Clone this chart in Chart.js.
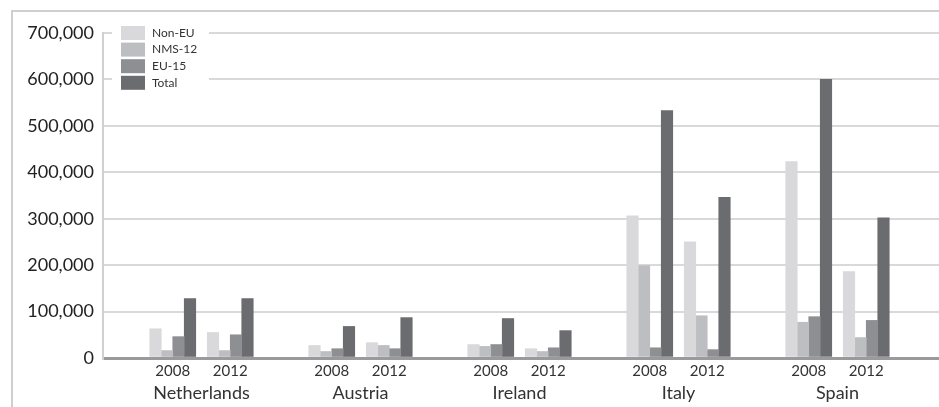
<!DOCTYPE html>
<html>
<head>
<meta charset="utf-8">
<script src="https://cdn.jsdelivr.net/npm/chart.js@4.4.1/dist/chart.umd.min.js"></script>
<style>
  body { margin: 0; background: #fff; }
  #frame { position: absolute; left: 11px; top: 10px; width: 940px; height: 400px;
           border-left: 2px solid #cfcfcf; border-top: 2px solid #cfcfcf; }
  #c { position: absolute; left: 0; top: 0; }
</style>
</head>
<body>
<div id="frame"></div>
<canvas id="c" width="939" height="407"></canvas>
<script>
// data
var countries = ['Netherlands', 'Austria', 'Ireland', 'Italy', 'Spain'];
var years = ['2008', '2012'];
var seriesNames = ['Non-EU', 'NMS-12', 'EU-15', 'Total'];
var colores = ['#d9d9db', '#bdbec1', '#8e8f92', '#6b6c70'];

var nonEU2008 = [63000, 27000, 29000, 306000, 423000];
var nms2008   = [16000, 14000, 25000, 199000, 77000];
var eu2008    = [46000, 20000, 29000, 22000, 89000];
var total2008 = [128000, 68000, 85000, 533000, 600000];

var nonEU2012 = [55000, 33000, 20000, 250000, 186000];
var nms2012   = [16000, 27000, 14000, 91000, 44000];
var eu2012    = [50000, 20000, 22000, 18000, 81000];
var total2012 = [128000, 87000, 59000, 346000, 302000];

var yTicks = [0, 100000, 200000, 300000, 400000, 500000, 600000, 700000];
var spacer = [0, 0, 0, 0, 0]; // empty slot between the two years

var FONT = 'Lato, "Open Sans", sans-serif';

var set2008 = [nonEU2008, nms2008, eu2008, total2008];
var set2012 = [nonEU2012, nms2012, eu2012, total2012];

var datasets = [];
for (var i = 0; i < 4; i++) {
  datasets.push({ label: seriesNames[i], data: set2008[i], backgroundColor: colores[i] });
}
datasets.push({ label: '', data: spacer, backgroundColor: 'rgba(0,0,0,0)' });
for (var j = 0; j < 4; j++) {
  datasets.push({ label: seriesNames[j], data: set2012[j], backgroundColor: colores[j] });
}

// squeeze the category axis inside the plot like the original
var shiftX = {
  id: 'shiftX',
  afterLayout: function(chart) {
    var x = chart.scales.x;
    x.left = chart.chartArea.left + 19;
    x.right = chart.chartArea.right - 22;
    x.width = x.right - x.left;
    x.configure();
  }
};

var legendBox = {
  id: 'legendBox',
  beforeDatasetsDraw: function(chart) {
    var ctx = chart.ctx;
    ctx.save();
    ctx.fillStyle = '#fff';
    ctx.fillRect(112, 22, 97, 73);
    ctx.font = '12px ' + FONT;
    ctx.textBaseline = 'middle';
    ctx.textAlign = 'left';
    for (var k = 0; k < 4; k++) {
      var ds = chart.data.datasets[k];
      var y = 26 + k * 16.6;
      ctx.fillStyle = ds.backgroundColor;
      ctx.fillRect(121, y, 24, 14);
      ctx.fillStyle = '#333';
      ctx.fillText(ds.label, 152, y + 7);
    }
    ctx.restore();
  }
};

var yearLabels = {
  id: 'yearLabels',
  afterDatasetsDraw: function(chart) {
    var ctx = chart.ctx;
    ctx.save();
    ctx.font = '15px ' + FONT;
    ctx.fillStyle = '#333';
    ctx.textAlign = 'center';
    ctx.textBaseline = 'middle';
    var pairs = [[1, 2], [6, 7]];
    for (var p = 0; p < pairs.length; p++) {
      var a = chart.getDatasetMeta(pairs[p][0]).data;
      var b = chart.getDatasetMeta(pairs[p][1]).data;
      for (var i = 0; i < countries.length; i++) {
        ctx.fillText(years[p], (a[i].x + b[i].x) / 2, 371);
      }
    }
    ctx.restore();
  }
};

var myChart = new Chart(document.getElementById('c').getContext('2d'), {
  type: 'bar',
  data: { labels: countries, datasets: datasets },
  plugins: [shiftX, legendBox, yearLabels],
  options: {
    responsive: false,
    animation: false,
    layout: { padding: { left: 11, top: 33, right: 0, bottom: 0 } },
    datasets: { bar: { barThickness: 11.5, borderWidth: 0 } },
    plugins: { legend: { display: false }, tooltip: { enabled: false } },
    scales: {
      x: {
        afterFit: function(s) { s.height = 49; },
        grid: { display: false, drawTicks: false },
        border: { display: false },
        ticks: { color: '#333', font: { family: FONT, size: 18 }, padding: 24, maxRotation: 0 }
      },
      y: {
        min: 0,
        max: yTicks[yTicks.length - 1],
        afterFit: function(s) { s.width = 92; },
        afterBuildTicks: function(s) { s.ticks = yTicks.map(function(v) { return { value: v }; }); },
        border: { display: true, color: '#d0d0d0', width: 2 },
        grid: {
          drawTicks: false,
          color: function(c) { return c.tick.value === 0 ? '#9a9a9c' : '#d9d9d9'; },
          lineWidth: function(c) { return c.tick.value === 0 ? 3 : 2; }
        },
        ticks: {
          padding: 9,
          color: '#222',
          font: { family: FONT, size: 18 },
          callback: function(v) { return v.toLocaleString('en-US'); }
        }
      }
    }
  }
});
</script>
</body>
</html>
